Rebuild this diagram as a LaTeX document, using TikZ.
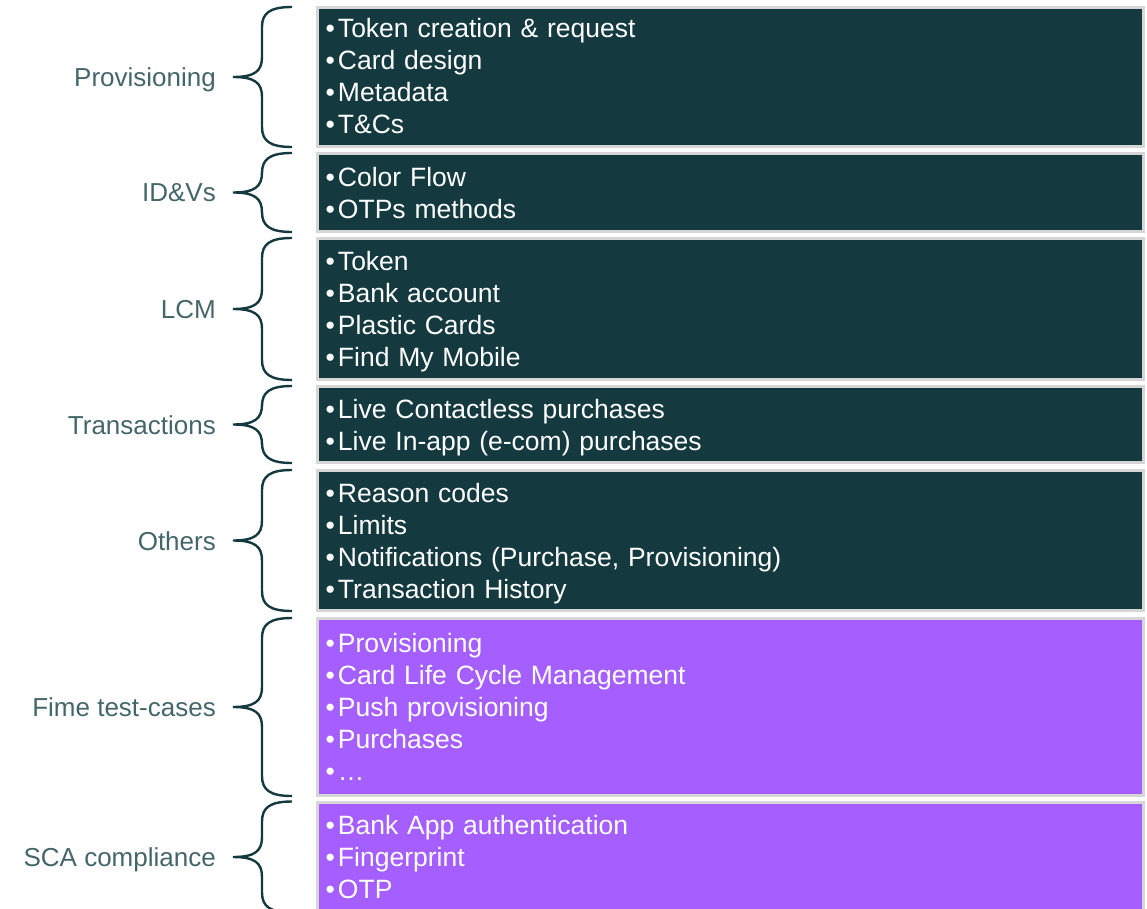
\documentclass[tikz,border=0pt]{standalone}
\usepackage{fontspec}
\setmainfont{Liberation Sans}
\usetikzlibrary{positioning}
\definecolor{darkteal}{HTML}{143A40}
\definecolor{lilac}{HTML}{A55EFF}
\definecolor{labelgray}{HTML}{44666A}
\definecolor{rimgray}{HTML}{D6D6D6}
\newcommand{\itm}{•\kern3pt}

\begin{document}
\begin{tikzpicture}[x=1pt,y=1pt]

	\tikzstyle{every node}=[font=\fontsize{26.5}{32}\selectfont]
	\tikzstyle{item box}=[draw=rimgray, line width=3pt, minimum width=826pt, inner sep=0pt]
	\tikzstyle{item text}=[anchor=north west, text=white, text width=800pt, inner sep=0pt, text height=19pt, align=left]
	\tikzstyle{grouptext}=[text=labelgray, inner sep=0pt, text height=19pt, text depth=0pt, font=\fontsize{26}{30}\selectfont]
	\tikzstyle{curly}=[draw=darkteal, line width=2.4pt]

	\useasboundingbox (0,0) rectangle (1147,-909);

	% boxes
	\node[item box, fill=darkteal, minimum height=139pt] (prov) at (730.5,-77) {};
	\node[item box, fill=darkteal, minimum height=78pt] (idv) at (730.5,-192.5) {};
	\node[item box, fill=darkteal, minimum height=141pt] (lcm) at (730.5,-309) {};
	\node[item box, fill=darkteal, minimum height=76pt] (trans) at (730.5,-424.5) {};
	\node[item box, fill=darkteal, minimum height=140pt] (others) at (730.5,-540.5) {};
	\node[item box, fill=lilac, minimum height=177pt] (fime) at (730.5,-707) {};
	\node[item box, fill=lilac, minimum height=110pt] (sca) at (730.5,-857) {};

	% bullet lists
	\node[item text] (prov-txt) at ([xshift=9.5pt,yshift=-12.5pt]prov.north west) {\itm Token creation \& request\\\itm Card design\\\itm Metadata\\\itm T\&Cs};
	\node[item text] (idv-txt) at ([xshift=9.5pt,yshift=-15.5pt]idv.north west) {\itm Color Flow\\\itm OTPs methods};
	\node[item text] (lcm-txt) at ([xshift=9.5pt,yshift=-14pt]lcm.north west) {\itm Token\\\itm Bank account\\\itm Plastic Cards\\\itm Find My Mobile};
	\node[item text] (trans-txt) at ([xshift=9.5pt,yshift=-14pt]trans.north west) {\itm Live Contactless purchases\\\itm Live In-app (e-com) purchases};
	\node[item text] (others-txt) at ([xshift=9.5pt,yshift=-14pt]others.north west) {\itm Reason codes\\\itm Limits\\\itm Notifications (Purchase, Provisioning)\\\itm Transaction History};
	\node[item text] (fime-txt) at ([xshift=9.5pt,yshift=-16.5pt]fime.north west) {\itm Provisioning\\\itm Card Life Cycle Management\\\itm Push provisioning\\\itm Purchases\\\itm …};
	\node[item text] (sca-txt) at ([xshift=9.5pt,yshift=-15pt]sca.north west) {\itm Bank App authentication\\\itm Fingerprint\\\itm OTP};

	% group names
	\node[grouptext, left=100pt of prov] (prov-lbl) {Provisioning};
	\node[grouptext, left=100pt of idv] (idv-lbl) {ID\&Vs};
	\node[grouptext, left=100pt of lcm] (lcm-lbl) {LCM};
	\node[grouptext, left=100pt of trans] (trans-lbl) {Transactions};
	\node[grouptext, left=100pt of others] (others-lbl) {Others};
	\node[grouptext, left=100pt of fime] (fime-lbl) {Fime test-cases};
	\node[grouptext, left=100pt of sca] (sca-lbl) {SCA compliance};

	% braces
	\foreach \n in {prov,idv,lcm,trans,others,fime,sca}{
		\draw[curly] ([xshift=-24pt,yshift=-1pt]\n.north west) .. controls +(-22,0) and +(0,14) .. ([xshift=-54pt,yshift=-21pt]\n.north west) -- ([xshift=-54pt,yshift=20pt]\n.west) .. controls +(0,-14) and +(22,0) .. ([xshift=-83pt]\n.west) .. controls +(22,0) and +(0,14) .. ([xshift=-54pt,yshift=-20pt]\n.west) -- ([xshift=-54pt,yshift=21pt]\n.south west) .. controls +(0,-14) and +(-22,0) .. ([xshift=-24pt,yshift=1pt]\n.south west);
	}

\end{tikzpicture}
\end{document}
